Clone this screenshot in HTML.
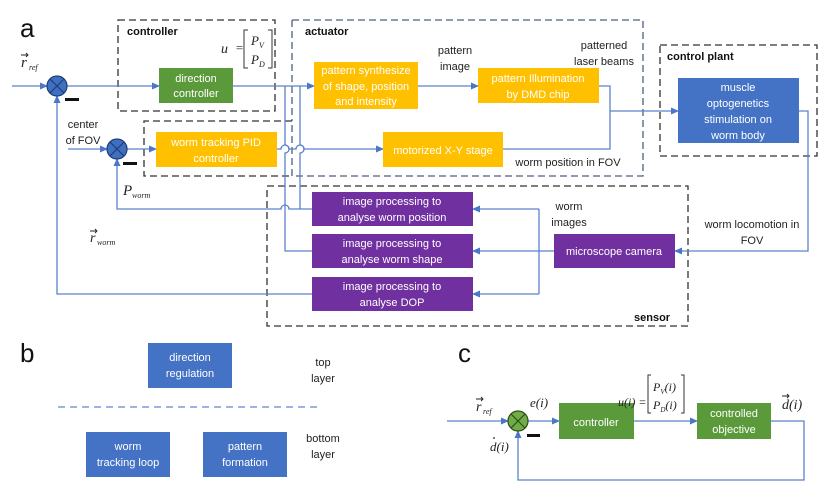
<!DOCTYPE html>
<html><head><meta charset="utf-8"><style>
html,body{margin:0;padding:0;background:#fff;}
svg{display:block;font-family:"Liberation Sans",sans-serif;}
.w{fill:#fff;font-size:11px;text-anchor:middle;}
.k{fill:#222;font-size:11px;text-anchor:middle;}
.b{fill:#111;font-size:11px;font-weight:bold;}
.m{font-family:"Liberation Serif",serif;font-style:italic;fill:#222;}
.ln{stroke:#5a82cc;stroke-width:1.3;fill:none;}
.d{stroke:#333;stroke-width:1.3;fill:none;stroke-dasharray:7,4;}
.ar{stroke:#222;stroke-width:0.9;fill:none;}
</style></head><body>
<svg width="831" height="496" viewBox="0 0 831 496">
<defs><marker id="a" markerWidth="8" markerHeight="8" refX="7" refY="4" orient="auto" markerUnits="userSpaceOnUse"><path d="M0,0.5 L8,4 L0,7.5z" fill="#4a78c8"/></marker></defs>
<text x="20" y="37" font-size="26" fill="#111">a</text>
<rect class="d" x="118" y="20" width="157" height="91"/>
<path class="d" d="M292,20 H643 V176 H292 V121 M292,20 V121" style="stroke:#4a5f80"/>
<path class="d" d="M292,121 H144 V176 H292"/>
<rect class="d" x="660" y="45" width="157" height="111"/>
<rect class="d" x="267" y="186" width="421" height="140"/>
<text class="b" x="127" y="35">controller</text>
<text class="b" x="305" y="35">actuator</text>
<text class="b" x="667" y="60">control plant</text>
<text class="b" x="634" y="321">sensor</text>
<text class="m" x="221" y="53" font-size="14">u</text><text class="m" x="235" y="52" font-size="13">=</text>
<path d="M248,30 h-4 v38 h4 M268,30 h4 v38 h-4" stroke="#333" fill="none"/>
<text class="m" x="251" y="45" font-size="13">P<tspan font-size="8" dy="3">V</tspan></text>
<text class="m" x="251" y="64" font-size="13">P<tspan font-size="8" dy="3">D</tspan></text>
<path class="ln" d="M12,86 H47" marker-end="url(#a)"/>
<path class="ln" d="M67,86 H159" marker-end="url(#a)"/>
<path class="ln" d="M233,86 H314" marker-end="url(#a)"/>
<path class="ln" d="M285,86 V145 a4,4 0 0 1 0,8 V251 H312"/>
<path class="ln" d="M300,86 V145 a4,4 0 0 1 0,8 V209"/>
<path class="ln" d="M68,149 H107" marker-end="url(#a)"/>
<path class="ln" d="M127,149 H156" marker-end="url(#a)"/>
<path class="ln" d="M277,149 H281 a4,4 0 0 1 8,0 H296 a4,4 0 0 1 8,0 H383" marker-end="url(#a)"/>
<path class="ln" d="M312,209 H289 a4,4 0 0 0 -8,0 H117 V159" marker-end="url(#a)"/>
<path class="ln" d="M312,294 H57 V96" marker-end="url(#a)"/>
<path class="ln" d="M418,86 H478" marker-end="url(#a)"/>
<path class="ln" d="M599,86 H610 V149 H503"/>
<path class="ln" d="M610,111 H678" marker-end="url(#a)"/>
<path class="ln" d="M799,111 H808 V251 H675" marker-end="url(#a)"/>
<path class="ln" d="M554,251 H473" marker-end="url(#a)"/>
<path class="ln" d="M539,209 V294"/>
<path class="ln" d="M539,209 H473" marker-end="url(#a)"/>
<path class="ln" d="M539,294 H473" marker-end="url(#a)"/>
<g stroke="#1f3d7a" stroke-width="1.2"><circle cx="57" cy="86" r="10" fill="#3f6fbf"/><path d="M50,79 L64,93 M64,79 L50,93"/>
<circle cx="117" cy="149" r="10" fill="#3f6fbf"/><path d="M110,142 L124,156 M124,142 L110,156"/></g>
<rect x="65" y="98" width="14" height="3" fill="#111"/>
<rect x="123" y="162" width="14" height="3" fill="#111"/>
<rect x="159" y="68" width="74" height="35" fill="#5b9a3a"/>
<text class="w" x="196" y="82">direction</text><text class="w" x="196" y="97">controller</text>
<rect x="314" y="62" width="104" height="47" fill="#ffc000"/>
<text class="w" x="366" y="74">pattern synthesize</text><text class="w" x="366" y="90">of shape, position</text><text class="w" x="366" y="105">and intensity</text>
<rect x="478" y="68" width="121" height="35" fill="#ffc000"/>
<text class="w" x="538" y="82">pattern Illumination</text><text class="w" x="538" y="98">by DMD chip</text>
<rect x="156" y="132" width="121" height="35" fill="#ffc000"/>
<text class="w" x="216" y="146">worm tracking PID</text><text class="w" x="216" y="162">controller</text>
<rect x="383" y="132" width="120" height="35" fill="#ffc000"/>
<text class="w" x="443" y="154">motorized X-Y stage</text>
<rect x="678" y="78" width="121" height="65" fill="#4472c4"/>
<text class="w" x="738" y="91">muscle</text><text class="w" x="738" y="107">optogenetics</text><text class="w" x="738" y="123">stimulation on</text><text class="w" x="738" y="139">worm body</text>
<g fill="#7030a0"><rect x="312" y="192" width="161" height="34"/><rect x="312" y="234" width="161" height="34"/><rect x="312" y="277" width="161" height="34"/><rect x="554" y="234" width="121" height="34"/></g>
<text class="w" x="392" y="205">image processing to</text><text class="w" x="392" y="221">analyse worm position</text>
<text class="w" x="392" y="247">image processing to</text><text class="w" x="392" y="263">analyse worm shape</text>
<text class="w" x="392" y="290">image processing to</text><text class="w" x="392" y="306">analyse DOP</text>
<text class="w" x="614" y="255">microscope camera</text>
<text class="k" x="455" y="54">pattern</text><text class="k" x="455" y="70">image</text>
<text class="k" x="604" y="49">patterned</text><text class="k" x="604" y="65">laser beams</text>
<text class="k" x="568" y="166">worm position in FOV</text>
<text class="k" x="569" y="210">worm</text><text class="k" x="569" y="226">images</text>
<text class="k" x="752" y="228">worm locomotion in</text><text class="k" x="752" y="244">FOV</text>
<text class="k" x="83" y="128">center</text><text class="k" x="83" y="144">of FOV</text>
<!-- r_ref -->
<text class="m" x="21" y="67" font-size="15">r</text><text class="m" x="29" y="70" font-size="8">ref</text>
<path class="ar" d="M21,55 H28 M26,53 L28,55 L26,57"/>
<text class="m" x="123" y="195" font-size="15">P</text><text class="m" x="132" y="198" font-size="8">worm</text>
<text class="m" x="90" y="242" font-size="14">r</text><text class="m" x="97" y="245" font-size="8">worm</text>
<path class="ar" d="M90,231 H97 M95,229 L97,231 L95,233"/>
<!-- panel b -->
<text x="20" y="362" font-size="26" fill="#111">b</text>
<rect x="148" y="343" width="84" height="45" fill="#4472c4"/>
<text class="w" x="190" y="361">direction</text><text class="w" x="190" y="377">regulation</text>
<path d="M58,407 H322" stroke="#7a9bd8" stroke-width="1.5" stroke-dasharray="7,5"/>
<rect x="86" y="432" width="84" height="45" fill="#4472c4"/>
<text class="w" x="128" y="450">worm</text><text class="w" x="128" y="466">tracking loop</text>
<rect x="203" y="432" width="84" height="45" fill="#4472c4"/>
<text class="w" x="245" y="450">pattern</text><text class="w" x="245" y="466">formation</text>
<text class="k" x="323" y="366">top</text><text class="k" x="323" y="382">layer</text>
<text class="k" x="323" y="442">bottom</text><text class="k" x="323" y="458">layer</text>
<!-- panel c -->
<text x="458" y="362" font-size="26" fill="#111">c</text>
<path class="ln" d="M447,421 H508" marker-end="url(#a)"/>
<path class="ln" d="M528,421 H559" marker-end="url(#a)"/>
<path class="ln" d="M634,421 H697" marker-end="url(#a)"/>
<path class="ln" d="M771,421 H804 V480 H518 V431" marker-end="url(#a)"/>
<circle cx="518" cy="421" r="10" fill="#70ad47" stroke="#2d4d1a" stroke-width="1.2"/><path d="M511,414 L525,428 M525,414 L511,428" stroke="#2d4d1a" stroke-width="1.2"/>
<rect x="527" y="434" width="13" height="3" fill="#111"/>
<rect x="559" y="403" width="75" height="36" fill="#5b9a3a"/>
<text class="w" x="596" y="426" font-size="12">controller</text>
<rect x="697" y="403" width="74" height="36" fill="#5b9a3a"/>
<text class="w" x="734" y="417" font-size="12">controlled</text><text class="w" x="734" y="433" font-size="12">objective</text>
<text class="m" x="476" y="411" font-size="14">r</text><text class="m" x="483" y="414" font-size="8">ref</text>
<path class="ar" d="M476,399 H483 M481,397 L483,399 L481,401"/>
<text class="m" x="530" y="407" font-size="13">e(i)</text>
<text class="m" x="490" y="451" font-size="13">d(i)</text>
<circle cx="494" cy="438" r="0.9" fill="#222"/>
<text class="m" x="618" y="406" font-size="12">u(i) =</text>
<path d="M651,375 h-3 v38 h3 M681,375 h3 v38 h-3" stroke="#333" fill="none"/>
<text class="m" x="653" y="391" font-size="12">P<tspan font-size="7" dy="3">V</tspan><tspan dy="-3">(i)</tspan></text>
<text class="m" x="653" y="409" font-size="12">P<tspan font-size="7" dy="3">D</tspan><tspan dy="-3">(i)</tspan></text>
<text class="m" x="782" y="409" font-size="14">d(i)</text>
<path class="ar" d="M782,396 H789 M787,394 L789,396 L787,398"/>
</svg>
</body></html>
